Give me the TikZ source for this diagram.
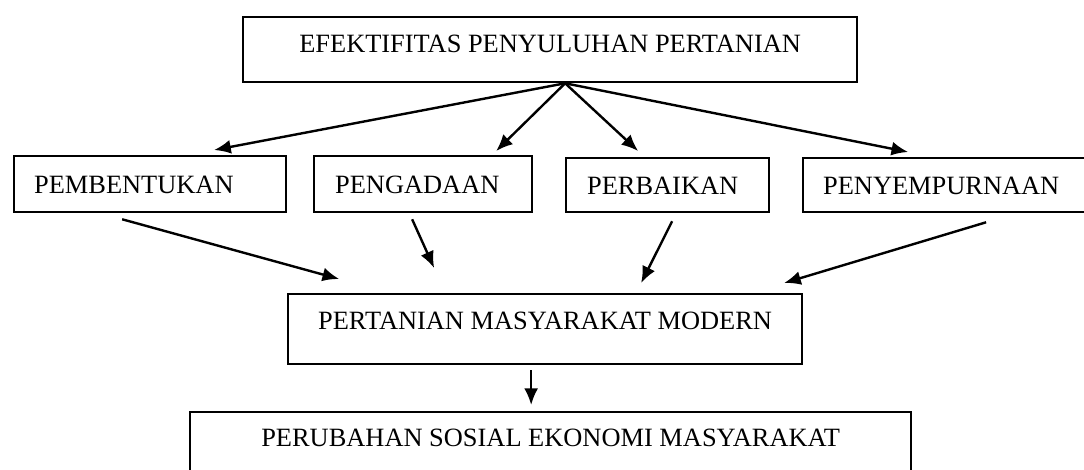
\documentclass[tikz,border=0pt]{standalone}
\usepackage{fontspec}
\setmainfont{Liberation Serif}
\usepackage{tikz}
\usetikzlibrary{
  positioning,
  calc,
  arrows.meta
}
\tikzstyle{box}=[draw, line width=1.7pt, inner sep=0pt, anchor=north west, font=\fontsize{19.8}{23}\selectfont]
\tikzstyle{leftbox}=[box, align=left]
\tikzstyle{link}=[-{Latex[length=12.5pt, width=10.5pt]}, line width=1.8pt]

\begin{document}
\begin{tikzpicture}[x=0.75pt, y=-0.75pt]
      \useasboundingbox (0,0) rectangle (1084,469);
      \clip (0,0) rectangle (1084,469);

      % 上の箱
      \node[box, minimum width=460.5pt, text height=26.25pt, text depth=22.5pt] (top) at (242,16) {EFEKTIFITAS PENYULUHAN PERTANIAN};

      % 中段の四つの箱
      \node[leftbox, inner xsep=15pt, text width=174pt, text height=27.75pt, text depth=14.25pt] (pemb) at (13,155) {PEMBENTUKAN};
      \node[leftbox, inner xsep=15.75pt, text width=132pt, text height=27.75pt, text depth=14.25pt] (peng) at (313,155) {PENGADAAN};
      \node[leftbox, inner xsep=15.75pt, text width=120.75pt, text height=27pt, text depth=13.5pt] (perb) at (565,157) {PERBAIKAN};
      \node[leftbox, inner xsep=15pt, text width=186pt, text height=27pt, text depth=13.5pt] (peny) at (802,157) {PENYEMPURNAAN};

      % 下の二つの箱
      \node[box, minimum width=385.5pt, text height=26.25pt, text depth=26.25pt] (mid) at (287,293) {PERTANIAN MASYARAKAT MODERN};
      \node[box, minimum width=540.75pt, text height=25.5pt, text depth=30pt] (bot) at (189,411) {PERUBAHAN SOSIAL EKONOMI MASYARAKAT};

      % 分岐点
      \coordinate (apex) at ($(top.south)+(15,0)$);

      % 上から中段への矢印
      \draw[link] (apex) -- ($(pemb.north)+(64,-5)$);
      \draw[link] (apex) -- ($(peng.north)+(73,-4)$);
      \draw[link] (apex) -- ($(perb.north)+(-29.5,-6)$);
      \draw[link] (apex) -- ($(peny.north)+(-39,-5)$);

      % 中段から下への矢印
      \draw[link] ($(pemb.south)+(-28,6)$) -- ($(mid.north)+(-206,-14)$);
      \draw[link] ($(peng.south)+(-11,6)$) -- ($(mid.north)+(-111,-25)$);
      \draw[link] ($(perb.south)+(4.5,8)$) -- ($(mid.north)+(96,-10)$);
      \draw[link] ($(peny.south)+(39,9)$) -- ($(mid.north)+(239,-10)$);
      \draw[link] ($(mid.south)+(-14,5)$) -- ($(bot.north)+(-19.5,-6)$);
    \end{tikzpicture}
\end{document}
